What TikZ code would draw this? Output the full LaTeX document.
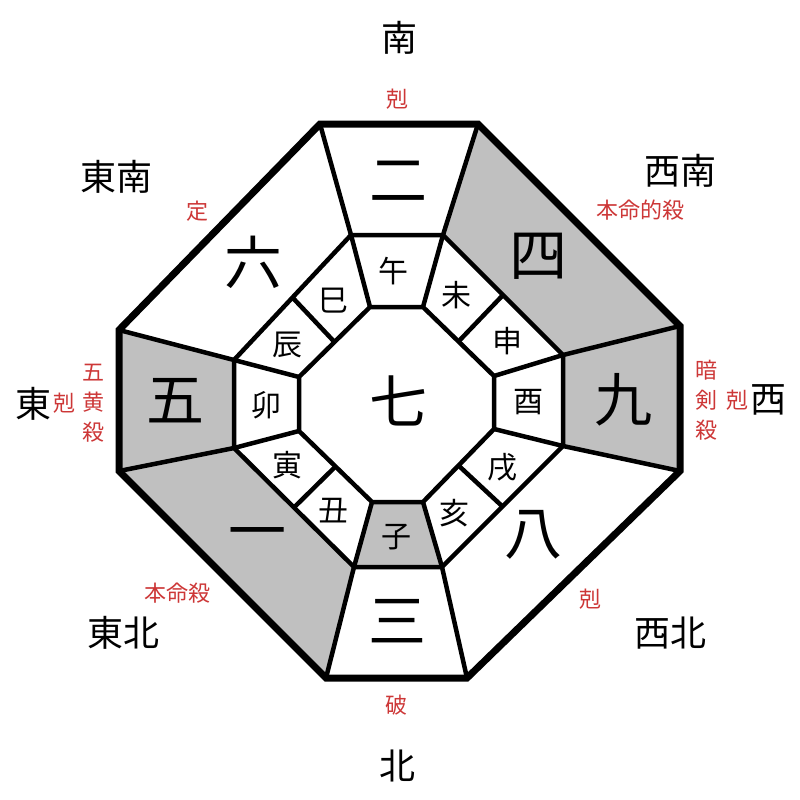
\documentclass[tikz,border=0pt]{standalone}
\usepackage{fontspec}
\newfontfamily\cjk{Noto Sans CJK JP}
\usetikzlibrary{calc}
\definecolor{cellgray}{RGB}{192,192,192}
\definecolor{markred}{RGB}{205,55,55}

\begin{document}
\begin{tikzpicture}[x=1pt, y=-1pt,
		frame/.style={line width=7pt, line join=miter},
		cellline/.style={line width=4.5pt, line join=miter},
		star/.style={font=\cjk\fontsize{58pt}{58pt}\selectfont},
		branch/.style={font=\cjk\fontsize{30pt}{30pt}\selectfont},
		direction/.style={font=\cjk\fontsize{36pt}{36pt}\selectfont},
		redmark/.style={font=\cjk\fontsize{22pt}{22pt}\selectfont, text=markred, inner sep=0pt, align=center}]
	\useasboundingbox (0,0) rectangle (800,800);
	\fill[white] (0,0) rectangle (800,800);
	
	% Define coordinates
	\coordinate (O1) at (320,124);
	\coordinate (O2) at (478,124);
	\coordinate (O3) at (680,326);
	\coordinate (O4) at (680,471);
	\coordinate (O5) at (467,678);
	\coordinate (O6) at (326,678);
	\coordinate (O7) at (119,471);
	\coordinate (O8) at (119,330);
	
	\coordinate (M1) at (351,235);
	\coordinate (M2) at (443,235);
	\coordinate (M3) at (563,355);
	\coordinate (M4) at (563,446);
	\coordinate (M5) at (442,567);
	\coordinate (M6) at (354,567);
	\coordinate (M7) at (234,448);
	\coordinate (M8) at (234,360);
	
	\coordinate (I1) at (370,307);
	\coordinate (I2) at (423,307);
	\coordinate (I3) at (494,376);
	\coordinate (I4) at (494,429);
	\coordinate (I5) at (423,502);
	\coordinate (I6) at (372,502);
	\coordinate (I7) at (299,431);
	\coordinate (I8) at (299,377);
	
	% Shaded cells
	\fill[cellgray] (O2) -- (O3) -- (M3) -- (M2) -- cycle;
	\fill[cellgray] (O3) -- (O4) -- (M4) -- (M3) -- cycle;
	\fill[cellgray] (O6) -- (O7) -- (M7) -- (M6) -- cycle;
	\fill[cellgray] (O7) -- (O8) -- (M8) -- (M7) -- cycle;
	\fill[cellgray] (M5) -- (M6) -- (I6) -- (I5) -- cycle;
	
	% Rings
	\draw[cellline] (M1) -- (M2) -- (M3) -- (M4) -- (M5) -- (M6) -- (M7) -- (M8) -- cycle;
	\draw[cellline] (I1) -- (I2) -- (I3) -- (I4) -- (I5) -- (I6) -- (I7) -- (I8) -- cycle;
	\foreach \i in {1,...,8}{
		\draw[cellline] (O\i) -- (M\i);
		\draw[cellline] (M\i) -- (I\i);
	}
	\foreach \a/\b in {2/3, 4/5, 6/7, 8/1}
		\draw[cellline] ($(M\a)!0.5!(M\b)$) -- ($(I\a)!0.5!(I\b)$);
	\draw[frame] (O1) -- (O2) -- (O3) -- (O4) -- (O5) -- (O6) -- (O7) -- (O8) -- cycle;
	
	% Stars
	\node[star] (s7) at (398,401) {七};
	\node[star] (s2) at (398,181) {二};
	\node[star] (s4) at (538,256) {四};
	\node[star] (s9) at (623,400) {九};
	\node[star] (s8) at (533,535) {八};
	\node[star] (s3) at (397,621) {三};
	\node[star] (s1) at (257,540) {一};
	\node[star] (s5) at (175,401) {五};
	\node[star] (s6) at (253,262) {六};
	
	% Branches
	\node[branch] (wu) at (393,271) {午};
	\node[branch] (wei) at (456,295) {未};
	\node[branch] (shen) at (507,341) {申};
	\node[branch] (you) at (528,402) {酉};
	\node[branch] (xu) at (502,467) {戌};
	\node[branch] (hai) at (454,513) {亥};
	\node[branch] (zi) at (396,537) {子};
	\node[branch] (chou) at (333,511) {丑};
	\node[branch] (yin) at (287,465) {寅};
	\node[branch] (mao) at (266,405) {卯};
	\node[branch] (chen) at (287,345) {辰};
	\node[branch] (si) at (333,301) {巳};
	
	% Directions
	\node[direction] (south) at (399,38) {南};
	\node[direction] (southeast) at (116,177) {東南};
	\node[direction] (southwest) at (680,171) {西南};
	\node[direction] (east) at (33,404) {東};
	\node[direction] (west) at (768,400) {西};
	\node[direction] (northeast) at (123,633) {東北};
	\node[direction] (northwest) at (670,633) {西北};
	\node[direction] (north) at (397,766) {北};
	
	% Marks
	\node[redmark] (kokuS) at (397,99) {剋};
	\node[redmark] (tei) at (197,211) {定};
	\node[redmark] (honmeiteki) at (640,210) {本命的殺};
	\node[redmark] (gooh) at (93,403) {五\\[8pt]黄\\[8pt]殺};
	\node[redmark] (kokuE) at (64,403) {剋};
	\node[redmark] (anken) at (706,400) {暗\\[8pt]剣\\[8pt]殺};
	\node[redmark] (kokuW) at (737,400) {剋};
	\node[redmark] (honmei) at (177,593) {本命殺};
	\node[redmark] (kokuNW) at (590,599) {剋};
	\node[redmark] (ha) at (396,705) {破};
\end{tikzpicture}
\end{document}
